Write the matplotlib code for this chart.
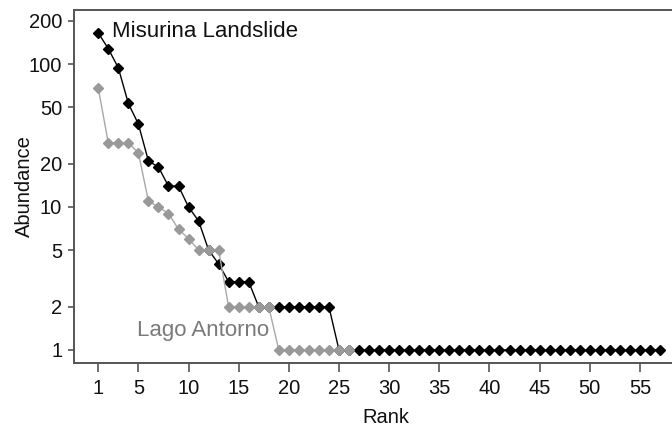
import matplotlib
matplotlib.use("Agg")
import matplotlib.pyplot as plt
from matplotlib.ticker import FixedLocator, FixedFormatter, NullLocator

# rank-abundance data
misurina = [165, 128, 94, 53, 38, 21, 19, 14, 14, 10, 8, 5, 4, 3, 3, 3] + [2] * 8 + [1] * 33
antorno = [68, 28, 28, 28, 24, 11, 10, 9, 7, 6, 5, 5, 5, 2, 2, 2, 2, 2] + [1] * 8
x_ticks = [1, 5, 10, 15, 20, 25, 30, 35, 40, 45, 50, 55]
y_ticks = [1, 2, 5, 10, 20, 50, 100, 200]

plt.rcParams['font.family'] = ['Liberation Sans', 'DejaVu Sans']

fig = plt.figure(figsize=(6.72, 4.25), dpi=100)
ax = fig.add_axes([0.1101, 0.1459, 0.8899, 0.8306])

rank_m = list(range(1, len(misurina) + 1))
rank_a = list(range(1, len(antorno) + 1))

ax.plot(rank_m, misurina, color='black', lw=1.0, marker='D', ms=5.6,
        mfc='black', mec='black', zorder=2)
ax.plot(rank_a, antorno, color='#a8a8a8', lw=1.0, marker='D', ms=5.6,
        mfc='#999999', mec='#999999', zorder=3)

ax.set_yscale('log')
ax.set_xlim(-1.42, 58.2)
ax.set_ylim(0.811, 238.7)

ax.xaxis.set_major_locator(FixedLocator(x_ticks))
ax.yaxis.set_major_locator(FixedLocator(y_ticks))
ax.yaxis.set_major_formatter(FixedFormatter([str(v) for v in y_ticks]))
ax.yaxis.set_minor_locator(NullLocator())
ax.xaxis.set_minor_locator(NullLocator())

for side in ['left', 'bottom', 'top']:
    ax.spines[side].set_color('#555555')
    ax.spines[side].set_linewidth(1.4)
ax.spines['right'].set_visible(False)

ax.tick_params(axis='x', direction='out', length=6.5, width=1.2,
               color='#555555', labelsize=14.5, labelcolor='#111111', pad=5)
ax.tick_params(axis='y', direction='out', length=4.5, width=1.2,
               color='#555555', labelsize=14.5, labelcolor='#111111', pad=4)

ax.set_xlabel('Rank', fontsize=14.5, color='#111111', va='center')
ax.set_ylabel('Abundance', fontsize=14.5, color='#111111', va='center')
ax.xaxis.set_label_coords(0.5208, -0.153)
ax.yaxis.set_label_coords(-0.0828, 0.5)

ax.text(2.37, 170, 'Misurina Landslide', fontsize=16, color='#111111',
        va='center', ha='left')
ax.text(4.87, 1.36, 'Lago Antorno', fontsize=16, color='#7a7a7a',
        va='center', ha='left')

fig.savefig('out.png', dpi=100)
